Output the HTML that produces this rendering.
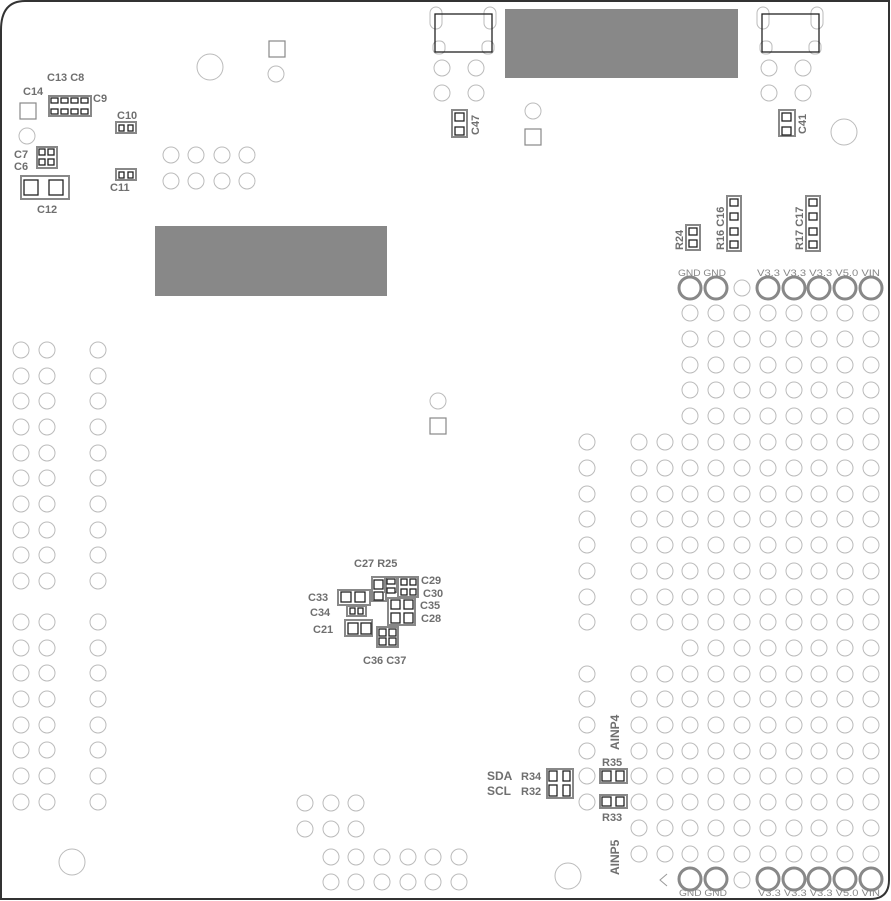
<!DOCTYPE html>
<html><head><meta charset="utf-8"><style>
html,body{margin:0;padding:0;background:#fff;}
svg{display:block}
text{font-family:"Liberation Sans",sans-serif;font-weight:bold;fill:#6f6f6f;font-size:11px}
.t{font-weight:normal;fill:#888;font-size:9.5px}
</style></head><body>
<svg id="s" width="891" height="901" viewBox="0 0 891 901" xmlns="http://www.w3.org/2000/svg">
<rect width="891" height="901" fill="#fff"/>
<path d="M1,899 L1,30 Q1,1 25,1 L889,1 L889,880 Q889,899 870,899 Z" fill="none" stroke="#333" stroke-width="2"/>
<rect x="505" y="9" width="233" height="69" fill="#888"/>
<rect x="155" y="226" width="232" height="70" fill="#888"/>
<g id="holes" fill="none" stroke="#bbb" stroke-width="1"></g>
<g fill="none" stroke="#bbb" stroke-width="1">
<circle cx="210" cy="67" r="13"/><circle cx="72" cy="862" r="13"/>
<circle cx="568" cy="876" r="13"/><circle cx="844" cy="132" r="13"/>
<circle cx="276" cy="74" r="8"/><circle cx="27" cy="136" r="8"/>
<circle cx="533" cy="111" r="8"/><circle cx="438" cy="401" r="8"/>
<circle cx="742" cy="288" r="8"/><circle cx="742" cy="880" r="8"/>
</g>
<g fill="none" stroke="#888" stroke-width="1.2">
<rect x="269" y="41" width="16" height="16"/><rect x="20" y="103" width="16" height="16"/>
<rect x="525" y="129" width="16" height="16"/><rect x="430" y="418" width="16" height="16"/>
</g>
<g fill="none" stroke="#bbb" stroke-width="1">
<rect x="430" y="7" width="12" height="22" rx="6"/><rect x="484" y="7" width="12" height="22" rx="6"/>
<rect x="433" y="41" width="12" height="13" rx="5"/><rect x="482" y="41" width="12" height="13" rx="5"/>
<rect x="757" y="7" width="12" height="22" rx="6"/><rect x="811" y="7" width="12" height="22" rx="6"/>
<rect x="760" y="41" width="12" height="13" rx="5"/><rect x="809" y="41" width="12" height="13" rx="5"/>
<circle cx="442" cy="68" r="8"/><circle cx="476" cy="68" r="8"/><circle cx="442" cy="93" r="8"/><circle cx="476" cy="93" r="8"/>
<circle cx="769" cy="68" r="8"/><circle cx="803" cy="68" r="8"/><circle cx="769" cy="93" r="8"/><circle cx="803" cy="93" r="8"/>
</g>
<g fill="none" stroke="#222" stroke-width="1.3">
<rect x="435" y="14" width="57" height="38"/><rect x="762" y="14" width="57" height="38"/>
</g>
<g fill="none" stroke="#888" stroke-width="3">
<circle cx="690" cy="288" r="11"/><circle cx="716" cy="288" r="11"/>
<circle cx="768" cy="288" r="11"/><circle cx="794" cy="288" r="11"/><circle cx="819" cy="288" r="11"/><circle cx="845" cy="288" r="11"/><circle cx="871" cy="288" r="11"/>
<circle cx="690" cy="879" r="11"/><circle cx="716" cy="879" r="11"/>
<circle cx="768" cy="879" r="11"/><circle cx="794" cy="879" r="11"/><circle cx="819" cy="879" r="11"/><circle cx="845" cy="879" r="11"/><circle cx="871" cy="879" r="11"/>
</g>
<path d="M667,874 L660,880 L667,886" fill="none" stroke="#999" stroke-width="1"/>
<g fill="none" stroke="#888" stroke-width="2">
<rect x="49" y="96" width="42" height="20"/>
<rect x="116" y="122" width="20" height="11"/>
<rect x="116" y="169" width="20" height="11"/>
<rect x="37" y="147" width="20" height="21"/>
<rect x="21" y="176" width="48" height="23"/>
<rect x="452" y="110" width="15" height="27"/>
<rect x="779" y="110" width="16" height="26"/>
<rect x="686" y="225" width="14" height="25"/>
<rect x="727" y="196" width="14" height="55"/>
<rect x="806" y="196" width="14" height="55"/>
<rect x="372" y="577" width="14" height="24"/>
<rect x="385" y="577" width="12" height="15"/>
<rect x="398" y="577" width="20" height="20"/>
<rect x="338" y="590" width="32" height="15"/>
<rect x="347" y="606" width="19" height="10"/>
<rect x="388" y="598" width="27" height="27"/>
<rect x="345" y="620" width="27" height="16"/>
<rect x="377" y="627" width="21" height="20"/>
<rect x="547" y="769" width="26" height="29"/>
<rect x="600" y="769" width="27" height="14"/>
<rect x="600" y="795" width="27" height="13"/>
</g>
<g id="pads" fill="#fff" stroke="#222" stroke-width="1.3"></g>
<text x="47" y="81">C13 C8</text>
<text x="23" y="95">C14</text>
<text x="93" y="102">C9</text>
<text x="117" y="119">C10</text>
<text x="14" y="158">C7</text>
<text x="14" y="170">C6</text>
<text x="110" y="191">C11</text>
<text x="37" y="213">C12</text>
<text transform="translate(479,135) rotate(-90)">C47</text>
<text transform="translate(806,134) rotate(-90)">C41</text>
<text transform="translate(683,250) rotate(-90)">R24</text>
<text transform="translate(724,250) rotate(-90)">R16 C16</text>
<text transform="translate(803,250) rotate(-90)">R17 C17</text>
<text class="t" x="678" y="276" textLength="48" lengthAdjust="spacingAndGlyphs">GND GND</text>
<text class="t" x="757" y="276" textLength="123" lengthAdjust="spacingAndGlyphs">V3.3 V3.3 V3.3 V5.0 VIN</text>
<text class="t" x="679" y="896" textLength="48" lengthAdjust="spacingAndGlyphs">GND GND</text>
<text class="t" x="758" y="896" textLength="122" lengthAdjust="spacingAndGlyphs">V3.3 V3.3 V3.3 V5.0 VIN</text>
<text x="354" y="567">C27 R25</text>
<text x="421" y="584">C29</text>
<text x="423" y="597">C30</text>
<text x="308" y="601">C33</text>
<text x="310" y="616">C34</text>
<text x="420" y="609">C35</text>
<text x="421" y="622">C28</text>
<text x="313" y="633">C21</text>
<text x="363" y="664">C36 C37</text>
<text x="487" y="780" style="font-size:12px">SDA</text>
<text x="521" y="780">R34</text>
<text x="487" y="795" style="font-size:12px">SCL</text>
<text x="521" y="795">R32</text>
<text x="602" y="766">R35</text>
<text x="602" y="821">R33</text>
<text transform="translate(619,750) rotate(-90)" style="font-size:12px">AINP4</text>
<text transform="translate(619,875) rotate(-90)" style="font-size:12px">AINP5</text>
</svg>
<script>
var NS="http://www.w3.org/2000/svg";
var g=document.getElementById('holes');
function c(x,y,r){var e=document.createElementNS(NS,'circle');e.setAttribute('cx',x);e.setAttribute('cy',y);e.setAttribute('r',r||8);g.appendChild(e);}
[171,196,222,247].forEach(function(x){c(x,155);c(x,181);});
var ly=[350,376,401,427,453,478,504,530,555,581,622,648,673,699,725,750,776,802];
ly.forEach(function(y){c(21,y);c(47,y);c(98,y);});
[305,331,356].forEach(function(x){c(x,803);c(x,829);});
[331,356,382,408,433,459].forEach(function(x){c(x,857);c(x,882);});
var cols=[690,716,742,768,794,819,845,871];
[313,339,365,390,416].forEach(function(y){cols.forEach(function(x){c(x,y);});});
var rows=[442,468,494,519,545,571,597,622];
rows.forEach(function(y){c(587,y);c(639,y);c(665,y);cols.forEach(function(x){c(x,y);});});
cols.forEach(function(x){c(x,648);});
[674,699,725,751,776,802].forEach(function(y){c(587,y);c(639,y);c(665,y);cols.forEach(function(x){c(x,y);});});
[828,854].forEach(function(y){c(639,y);c(665,y);cols.forEach(function(x){c(x,y);});});
var p=document.getElementById('pads');
function r(x,y,w,h){var e=document.createElementNS(NS,'rect');e.setAttribute('x',x);e.setAttribute('y',y);e.setAttribute('width',w);e.setAttribute('height',h);p.appendChild(e);}
[51,61,71,81].forEach(function(x){r(x,98,7,5);r(x,109,7,5);});
r(119,125,5,6);r(128,125,5,6);r(119,172,5,6);r(128,172,5,6);
r(39,149,6,6);r(48,149,6,6);r(39,159,6,6);r(48,159,6,6);
r(24,180,14,15);r(49,180,14,15);
r(455,113,9,8);r(455,127,9,8);r(782,113,9,8);r(782,127,9,8);
r(689,228,8,7);r(689,240,8,7);
[199,213,228,241].forEach(function(y){r(730,y,8,7);r(809,y,8,7);});
r(374,580,9,9);r(374,592,9,8);r(387,579,8,5);r(387,588,8,5);
r(401,579,6,6);r(410,579,6,6);r(401,589,6,6);r(410,589,6,6);
r(341,592,10,10);r(355,592,10,10);r(350,608,5,6);r(358,608,5,6);
r(391,600,9,9);r(404,600,9,9);r(391,613,9,10);r(404,613,9,10);
r(348,623,10,11);r(361,623,10,11);r(379,629,7,7);r(389,629,7,7);r(379,638,7,7);r(389,638,7,7);
r(549,771,8,10);r(563,771,7,10);r(549,785,8,11);r(563,785,7,11);
r(602,771,9,10);r(616,771,8,10);r(602,797,9,9);r(616,797,8,9);
</script>
</body></html>
